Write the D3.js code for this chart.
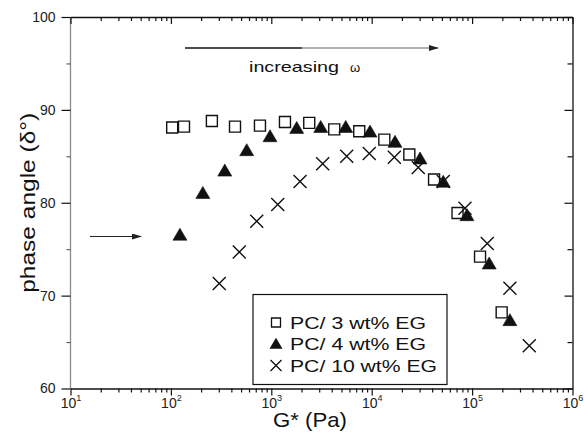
<!DOCTYPE html>
<html>
<head>
<meta charset="utf-8">
<script src="https://cdn.jsdelivr.net/npm/d3@7"></script>
<style>
  html, body { margin: 0; padding: 0; background: #fff; }
  svg { display: block; font-family: "Liberation Sans", Arial, sans-serif; }
</style>
</head>
<body>
<svg id="chart" width="584" height="433"></svg>
<script>
// Complex modulus G* (Pa) and phase angle (degrees) for each blend
const gPC3 = [103, 135, 256, 435, 771, 1368, 2388, 4236, 7516, 13360, 23700, 41800, 71600, 120000, 197000];
const dPC3 = [88.1, 88.2, 88.8, 88.2, 88.3, 88.7, 88.6, 87.9, 87.7, 86.8, 85.2, 82.5, 78.9, 74.2, 68.2];

const gPC4 = [123, 208, 344, 569, 971, 1790, 3105, 5510, 9620, 17060, 30300, 51600, 88900, 148000, 238000];
const dPC4 = [76.4, 80.9, 83.3, 85.5, 87.0, 87.9, 88.0, 88.0, 87.5, 86.4, 84.6, 82.1, 78.5, 73.3, 67.2];

const gPC10 = [303, 480, 716, 1159, 1933, 3250, 5640, 9460, 16800, 29100, 51600, 84900, 141600, 238000, 371000];
const dPC10 = [71.3, 74.7, 78.0, 79.8, 82.3, 84.2, 85.0, 85.3, 84.9, 83.8, 82.3, 79.4, 75.6, 70.8, 64.6];

const seriesNames = ["PC/ 3 wt% EG", "PC/ 4 wt% EG", "PC/ 10 wt% EG"];
const xMajorTicks = [1e1, 1e2, 1e3, 1e4, 1e5, 1e6];
const yMajorTicks = [60, 70, 80, 90, 100];
const yMinorTicks = [65, 75, 85, 95];

const svg = d3.select("#chart");
const L = 70.5, R = 572.5, T = 17, B = 388.5;

const x = d3.scaleLog().domain([1e1, 1e6]).range([L, R]);
const y = d3.scaleLinear().domain([60, 100]).range([B, T]);

const xMinorTicks = [];
for (let e = 1; e < 6; e++) for (let m = 2; m <= 9; m++) xMinorTicks.push(m * Math.pow(10, e));

const ink = "#111";

// frame: the left edge is drawn lighter
svg.append("line").attr("x1", L).attr("x2", L).attr("y1", T).attr("y2", B)
  .attr("stroke", "#8a8a8a").attr("stroke-width", 1.3);

function styleAxis(g) {
  g.select(".domain").attr("stroke", ink).attr("stroke-width", 1.3);
  g.selectAll(".tick line").attr("stroke", ink).attr("stroke-width", 1.2);
}

// bottom axis: outward ticks, labels as powers of ten
const gB = svg.append("g").attr("transform", `translate(0,${B})`)
  .call(d3.axisBottom(x).tickValues(xMajorTicks).tickSizeInner(7).tickSizeOuter(0).tickFormat(d => d));
styleAxis(gB);
gB.selectAll(".tick text").each(function(d) {
  const t = d3.select(this);
  t.text(null).attr("y", 19.5).attr("dy", 0).attr("font-size", 14).attr("fill", "#222")
    .attr("font-family", "Liberation Sans, Arial, sans-serif");
  t.append("tspan").text("10");
  t.append("tspan").attr("dy", -7).attr("font-size", 9).text(Math.round(Math.log10(d)));
});
svg.append("g").attr("transform", `translate(0,${B})`)
  .call(d3.axisBottom(x).tickValues(xMinorTicks).tickSize(4).tickFormat(""))
  .call(g => { g.select(".domain").remove(); g.selectAll(".tick line").attr("stroke", ink).attr("stroke-width", 1.2); });

// top axis: inward ticks
const gT = svg.append("g").attr("transform", `translate(0,${T})`)
  .call(d3.axisTop(x).tickValues(xMajorTicks).tickSizeInner(-7).tickSizeOuter(0).tickFormat(""));
styleAxis(gT);
svg.append("g").attr("transform", `translate(0,${T})`)
  .call(d3.axisTop(x).tickValues(xMinorTicks).tickSize(-4).tickFormat(""))
  .call(g => { g.select(".domain").remove(); g.selectAll(".tick line").attr("stroke", ink).attr("stroke-width", 1.2); });

// left axis: outward ticks
const gL = svg.append("g").attr("transform", `translate(${L},0)`)
  .call(d3.axisLeft(y).tickValues(yMajorTicks).tickSizeInner(9).tickSizeOuter(0).tickPadding(6));
gL.select(".domain").remove();
gL.selectAll(".tick line").attr("stroke", ink).attr("stroke-width", 1.2);
gL.selectAll(".tick text").attr("font-size", 14).attr("fill", "#222")
  .attr("font-family", "Liberation Sans, Arial, sans-serif");
svg.append("g").attr("transform", `translate(${L},0)`)
  .call(d3.axisLeft(y).tickValues(yMinorTicks).tickSize(4).tickFormat(""))
  .call(g => { g.select(".domain").remove(); g.selectAll(".tick line").attr("stroke", "#555").attr("stroke-width", 1.1); });

// right axis: inward ticks
const gR = svg.append("g").attr("transform", `translate(${R},0)`)
  .call(d3.axisRight(y).tickValues(yMajorTicks).tickSizeInner(-8).tickSizeOuter(0).tickFormat(""));
styleAxis(gR);
svg.append("g").attr("transform", `translate(${R},0)`)
  .call(d3.axisRight(y).tickValues(yMinorTicks).tickSize(-5).tickFormat(""))
  .call(g => { g.select(".domain").remove(); g.selectAll(".tick line").attr("stroke", ink).attr("stroke-width", 1.2); });

// axis titles
svg.append("text").attr("x", 310).attr("y", 427).attr("text-anchor", "middle")
  .attr("font-size", 21).attr("fill", "#111").attr("textLength", 74).attr("lengthAdjust", "spacingAndGlyphs")
  .text("G* (Pa)");
svg.append("text").attr("transform", `translate(35,${(T + B) / 2}) rotate(-90)`)
  .attr("text-anchor", "middle").attr("font-size", 20).attr("fill", "#111")
  .attr("textLength", 180).attr("lengthAdjust", "spacingAndGlyphs")
  .text("phase angle (δ°)");

// markers
const sq = 11, triW = 14, triH = 12, cr = 6.5;
function squarePath(cx, cy, s) { const h = s / 2; return `M${cx - h},${cy - h}h${s}v${s}h${-s}Z`; }
function triPath(cx, cy, w, h) { return `M${cx},${cy - 2 * h / 3}L${cx + w / 2},${cy + h / 3}L${cx - w / 2},${cy + h / 3}Z`; }
function crossPath(cx, cy, r) { return `M${cx - r},${cy - r}L${cx + r},${cy + r}M${cx - r},${cy + r}L${cx + r},${cy - r}`; }

const pc3 = gPC3.map((g, i) => [g, dPC3[i]]);
const pc4 = gPC4.map((g, i) => [g, dPC4[i]]);
const pc10 = gPC10.map((g, i) => [g, dPC10[i]]);

svg.append("g").selectAll("path").data(pc3).join("path")
  .attr("d", d => squarePath(x(d[0]), y(d[1]), sq))
  .attr("fill", "none").attr("stroke", ink).attr("stroke-width", 1.4);
svg.append("g").selectAll("path").data(pc4).join("path")
  .attr("d", d => triPath(x(d[0]), y(d[1]), triW, triH))
  .attr("fill", ink).attr("stroke", ink).attr("stroke-width", 0.6);
svg.append("g").selectAll("path").data(pc10).join("path")
  .attr("d", d => crossPath(x(d[0]), y(d[1]), cr))
  .attr("fill", "none").attr("stroke", ink).attr("stroke-width", 1.4);

// legend
const lg = svg.append("g");
lg.append("rect").attr("x", 253).attr("y", 294.5).attr("width", 194).attr("height", 90)
  .attr("fill", "#fff").attr("stroke", ink).attr("stroke-width", 1.2);
const rowY = [322.5, 344, 365.5];
const rowLen = [136, 136, 147];
lg.append("path").attr("d", squarePath(276, rowY[0], 9)).attr("fill", "none").attr("stroke", ink).attr("stroke-width", 1.3);
lg.append("path").attr("d", triPath(276, rowY[1] + 1, 13, 11)).attr("fill", ink);
lg.append("path").attr("d", crossPath(276, rowY[2], 5.5)).attr("fill", "none").attr("stroke", ink).attr("stroke-width", 1.3);
lg.selectAll("text.lab").data(seriesNames).join("text").attr("class", "lab")
  .attr("x", 290).attr("y", (d, i) => rowY[i] + 6).attr("font-size", 17).attr("fill", "#111")
  .attr("textLength", (d, i) => rowLen[i]).attr("lengthAdjust", "spacingAndGlyphs")
  .text(d => d);

// "increasing ω" arrow
const defs = svg.append("defs");
defs.append("marker").attr("id", "ah").attr("viewBox", "0 0 10 6").attr("refX", 9).attr("refY", 3)
  .attr("markerWidth", 10).attr("markerHeight", 6).attr("markerUnits", "userSpaceOnUse").attr("orient", "auto")
  .append("path").attr("d", "M0,0L10,3L0,6Z").attr("fill", "#222");
svg.append("line").attr("x1", 185).attr("x2", 302).attr("y1", 48).attr("y2", 48)
  .attr("stroke", "#111").attr("stroke-width", 1.6);
svg.append("line").attr("x1", 300).attr("x2", 438).attr("y1", 48).attr("y2", 48)
  .attr("stroke", "#666").attr("stroke-width", 1.2).attr("marker-end", "url(#ah)");
svg.append("text").attr("x", 249).attr("y", 72).attr("font-size", 15).attr("fill", "#111")
  .attr("textLength", 90).attr("lengthAdjust", "spacingAndGlyphs").text("increasing");
svg.append("text").attr("x", 350).attr("y", 72).attr("font-size", 13).attr("fill", "#111").text("ω");

// arrow pointing at the 4 wt% curve
svg.append("line").attr("x1", 90).attr("x2", 141).attr("y1", 236.5).attr("y2", 236.5)
  .attr("stroke", "#222").attr("stroke-width", 1.1).attr("marker-end", "url(#ah)");
</script>
</body>
</html>
